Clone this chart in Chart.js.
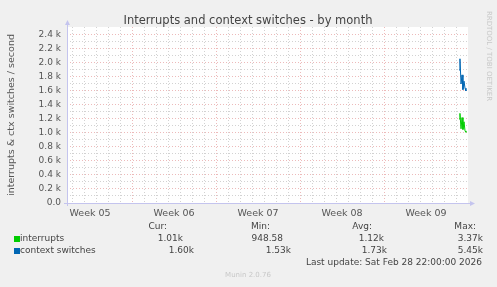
<!DOCTYPE html>
<html>
<head>
<meta charset="utf-8">
<script src="https://cdn.jsdelivr.net/npm/chart.js@4/dist/chart.umd.min.js"></script>
<style>
  html, body { margin: 0; padding: 0; background: #f0f0f0; }
  canvas { display: block; }
</style>
</head>
<body>
<canvas id="munin-chart" width="497" height="287"></canvas>
<script>
// time in days from Mon Feb 2 00:00, one sample every 2 hours
const sampleDays = [27.25, 27.33, 27.42, 27.5, 27.58, 27.67, 27.75, 27.83]
const interrupts = [1200, 1280, 1060, 1220, 1050, 1160, 1030, 1010]
const contextSwitches = [1900, 2060, 1700, 1830, 1620, 1740, 1640, 1600]

const weekLabels = ['Week 05', 'Week 06', 'Week 07', 'Week 08', 'Week 09']
const weekCenters = [-3.5, 3.5, 10.5, 17.5, 24.5]
const weekStarts = [0, 7, 14, 21]

const legendNames = ['interrupts', 'context switches']
const legendColors = ['#00cc00', '#0066b3']
const statHeads = ['Cur:', 'Min:', 'Avg:', 'Max:']
const statRows = [
  ['1.01k', '948.58', '1.12k', '3.37k'],
  ['1.60k', '1.53k', '1.73k', '5.45k']
]

const X_MIN = -5.42
const X_MAX = 28
const Y_MAX = 2514

const GRID_MINOR = '#d2d2d2'
const GRID_MAJOR = 'rgba(225,140,140,0.6)'
const AXIS = '#c4c4ee'
const FONT = '"DejaVu Sans", sans-serif'

const xTicks = []
for (let d = -5; d < X_MAX; d++) xTicks.push(d)
weekCenters.forEach(v => xTicks.push(v))
xTicks.sort((a, b) => a - b)

const yTicks = []
for (let v = 0; v <= 2400; v += 100) yTicks.push(v)

const muninDecor = {
  id: 'muninDecor',
  beforeDraw (chart) {
    const ctx = chart.ctx
    const a = chart.chartArea
    ctx.save()
    ctx.fillStyle = '#f0f0f0'
    ctx.fillRect(0, 0, chart.width, chart.height)
    ctx.fillStyle = '#ffffff'
    ctx.fillRect(a.left, a.top, a.right - a.left, a.bottom - a.top)
    ctx.restore()
  },
  afterDraw (chart) {
    const ctx = chart.ctx
    const a = chart.chartArea
    ctx.save()

    // axes with arrows
    ctx.strokeStyle = AXIS
    ctx.fillStyle = AXIS
    ctx.lineWidth = 1
    ctx.beginPath()
    ctx.moveTo(a.left + 0.5, a.bottom + 3)
    ctx.lineTo(a.left + 0.5, a.top - 3)
    ctx.moveTo(a.left - 3, a.bottom + 0.5)
    ctx.lineTo(a.right + 3, a.bottom + 0.5)
    ctx.stroke()
    ctx.beginPath()
    ctx.moveTo(a.left + 0.5, a.top - 7)
    ctx.lineTo(a.left - 2, a.top - 2)
    ctx.lineTo(a.left + 3, a.top - 2)
    ctx.fill()
    ctx.beginPath()
    ctx.moveTo(a.right + 7, a.bottom + 0.5)
    ctx.lineTo(a.right + 2, a.bottom - 2)
    ctx.lineTo(a.right + 2, a.bottom + 3)
    ctx.fill()

    // title
    ctx.fillStyle = '#444'
    ctx.font = '11.5px ' + FONT
    ctx.textAlign = 'center'
    ctx.textBaseline = 'middle'
    ctx.fillText('Interrupts and context switches - by month', 248, 21)

    // y axis title
    ctx.save()
    ctx.translate(12, 115)
    ctx.rotate(-Math.PI / 2)
    ctx.font = '9.5px ' + FONT
    ctx.fillStyle = '#555'
    ctx.fillText('interrupts & ctx switches / second', 0, 0)
    ctx.restore()

    // watermark
    ctx.save()
    ctx.translate(489, 56)
    ctx.rotate(Math.PI / 2)
    ctx.font = '7px ' + FONT
    ctx.fillStyle = '#c8c8c8'
    ctx.fillText('RRDTOOL / TOBI OETIKER', 0, 0)
    ctx.restore()

    // legend table
    ctx.font = '9px ' + FONT
    ctx.fillStyle = '#444'
    ctx.textAlign = 'right'
    const headRight = [167, 270, 372, 476]
    statHeads.forEach((h, i) => ctx.fillText(h, headRight[i], 227))
    const colRight = [[183, 283, 384, 483], [194, 291, 387, 483]]
    const rowY = [239, 251]
    legendNames.forEach((name, r) => {
      ctx.fillStyle = legendColors[r]
      ctx.fillRect(14, rowY[r] - 3, 6, 6)
      ctx.fillStyle = '#444'
      ctx.textAlign = 'left'
      ctx.fillText(name, 20, rowY[r])
      ctx.textAlign = 'right'
      statRows[r].forEach((s, i) => ctx.fillText(s, colRight[r][i], rowY[r]))
    })
    ctx.fillText('Last update: Sat Feb 28 22:00:00 2026', 482, 263)

    ctx.textAlign = 'center'
    ctx.font = '7px ' + FONT
    ctx.fillStyle = '#c8c8c8'
    ctx.fillText('Munin 2.0.76', 248, 275)
    ctx.restore()
  }
}

const data = {
  datasets: [
    {
      label: legendNames[0],
      data: sampleDays.map((d, i) => ({ x: d, y: interrupts[i] })),
      borderColor: legendColors[0],
      borderWidth: 1,
      pointRadius: 0,
      fill: false
    },
    {
      label: legendNames[1],
      data: sampleDays.map((d, i) => ({ x: d, y: contextSwitches[i] })),
      borderColor: legendColors[1],
      borderWidth: 1,
      pointRadius: 0,
      fill: false
    }
  ]
}

const options = {
  responsive: false,
  animation: false,
  layout: { padding: { left: 0, top: 27, right: 29, bottom: 0 } },
  plugins: { legend: { display: false }, tooltip: { enabled: false } },
  scales: {
    x: {
      type: 'linear',
      min: X_MIN,
      max: X_MAX,
      afterBuildTicks (scale) { scale.ticks = xTicks.map(v => ({ value: v })) },
      afterFit (scale) { scale.height = 84 },
      border: { display: false, dash: [1, 2] },
      grid: {
        drawTicks: false,
        color (c) {
          const v = c.tick ? c.tick.value : 0
          if (!Number.isInteger(v)) return 'rgba(0,0,0,0)'
          return weekStarts.includes(v) ? GRID_MAJOR : GRID_MINOR
        }
      },
      ticks: {
        autoSkip: false,
        maxRotation: 0,
        padding: 5,
        color: '#555',
        font: { family: FONT, size: 9.5 },
        callback (v) {
          const i = weekCenters.indexOf(v)
          return i >= 0 ? weekLabels[i] : ''
        }
      }
    },
    y: {
      type: 'linear',
      min: 0,
      max: Y_MAX,
      afterBuildTicks (scale) { scale.ticks = yTicks.map(v => ({ value: v })) },
      afterFit (scale) { scale.width = 67 },
      border: { display: false, dash: [1, 2] },
      grid: {
        drawTicks: false,
        color (c) {
          const v = c.tick ? c.tick.value : 0
          if (v === 0) return 'rgba(0,0,0,0)'
          return v % 200 === 0 ? GRID_MAJOR : GRID_MINOR
        }
      },
      ticks: {
        autoSkip: false,
        padding: 6,
        color: '#555',
        font: { family: FONT, size: 9 },
        callback (v) {
          if (v % 200 !== 0) return ''
          return v === 0 ? '0.0' : (v / 1000).toFixed(1) + ' k'
        }
      }
    }
  }
}

new Chart(document.getElementById('munin-chart').getContext('2d'), {
  type: 'line',
  data,
  options,
  plugins: [muninDecor]
})
</script>
</body>
</html>
